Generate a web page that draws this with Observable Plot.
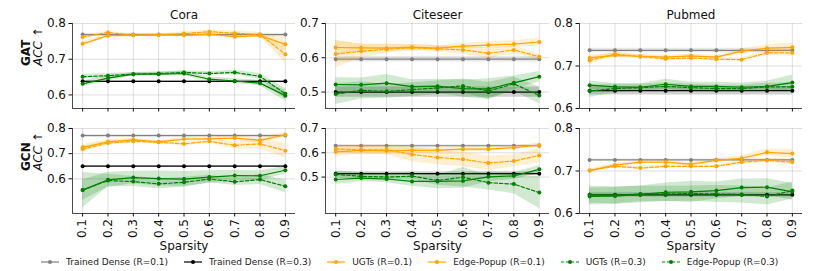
<!DOCTYPE html>
<html>
<head>
<meta charset="utf-8">
<script src="https://cdn.jsdelivr.net/npm/d3@7"></script>
<script src="https://cdn.jsdelivr.net/npm/@observablehq/plot@0.6"></script>
<style>
  html, body { margin: 0; padding: 0; background: #fff; }
  #chart { position: relative; width: 814px; height: 271px; background: #fff; overflow: hidden; font-family: "DejaVu Sans", sans-serif; }
  #chart > svg { position: absolute; }
  #legend { position: absolute; left: 41px; top: 257px; display: flex; gap: 16px; align-items: center; font-size: 9px; color: #222; white-space: nowrap; }
  #legend .item { display: flex; align-items: center; }
  #legend .item span { margin-left: 7px; }
</style>
</head>
<body>
<div id="chart"></div>
<script>
// ---------------- DATA ----------------
const sparsity = [0.1, 0.2, 0.3, 0.4, 0.5, 0.6, 0.7, 0.8, 0.9];
const datasets = ["Cora", "Citeseer", "Pubmed"];
const models = ["GAT", "GCN"];
// panel order: GAT-Cora, GAT-Citeseer, GAT-Pubmed, GCN-Cora, GCN-Citeseer, GCN-Pubmed
const yDomains = [[0.562, 0.8], [0.452, 0.7], [0.6, 0.8], [0.462, 0.8], [0.35, 0.7], [0.6, 0.8]];
const yTicks = [[0.6, 0.7, 0.8], [0.5, 0.6, 0.7], [0.6, 0.7, 0.8], [0.6, 0.7, 0.8], [0.5, 0.6, 0.7], [0.6, 0.7, 0.8]];

// Trained dense baselines (same at every sparsity)
const denseR01 = [0.769, 0.596, 0.737, 0.772, 0.629, 0.726];
const denseR01Sd = [0.003, 0.008, 0.005, 0.004, 0.004, 0.002];
const denseR03 = [0.638, 0.500, 0.642, 0.650, 0.514, 0.644];
const denseR03Sd = [0.002, 0.015, 0.010, 0.002, 0.008, 0.005];

// UGTs (R=0.1)
const ugtsR01 = [
  [0.743, 0.766, 0.767, 0.768, 0.767, 0.770, 0.763, 0.766, 0.742],
  [0.630, 0.629, 0.628, 0.631, 0.628, 0.634, 0.637, 0.640, 0.646],
  [0.719, 0.725, 0.723, 0.721, 0.724, 0.721, 0.735, 0.742, 0.744],
  [0.725, 0.747, 0.755, 0.747, 0.758, 0.759, 0.762, 0.753, 0.775],
  [0.604, 0.610, 0.608, 0.610, 0.611, 0.615, 0.615, 0.621, 0.632],
  [0.701, 0.714, 0.721, 0.721, 0.716, 0.725, 0.730, 0.744, 0.741]
];
const ugtsR01Sd = [
  [0.006, 0.005, 0.004, 0.003, 0.004, 0.004, 0.005, 0.005, 0.020],
  [0.020, 0.012, 0.012, 0.008, 0.008, 0.008, 0.010, 0.010, 0.012],
  [0.006, 0.005, 0.004, 0.004, 0.004, 0.004, 0.005, 0.008, 0.010],
  [0.010, 0.008, 0.006, 0.005, 0.006, 0.006, 0.008, 0.010, 0.010],
  [0.020, 0.015, 0.015, 0.012, 0.012, 0.010, 0.010, 0.008, 0.008],
  [0.004, 0.004, 0.004, 0.004, 0.004, 0.005, 0.006, 0.008, 0.010]
];
// Edge-Popup (R=0.1)
const epR01 = [
  [0.762, 0.775, 0.767, 0.768, 0.772, 0.777, 0.773, 0.769, 0.714],
  [0.611, 0.619, 0.625, 0.629, 0.626, 0.623, 0.613, 0.623, 0.603],
  [0.713, 0.728, 0.722, 0.717, 0.719, 0.716, 0.715, 0.731, 0.731],
  [0.718, 0.742, 0.749, 0.745, 0.739, 0.749, 0.733, 0.739, 0.712],
  [0.616, 0.612, 0.612, 0.593, 0.581, 0.573, 0.558, 0.566, 0.589],
  [0.701, 0.711, 0.707, 0.711, 0.711, 0.711, 0.721, 0.725, 0.721]
];
const epR01Sd = [
  [0.004, 0.004, 0.003, 0.003, 0.005, 0.005, 0.006, 0.006, 0.025],
  [0.040, 0.020, 0.012, 0.010, 0.010, 0.012, 0.015, 0.012, 0.008],
  [0.008, 0.006, 0.004, 0.005, 0.004, 0.004, 0.004, 0.006, 0.008],
  [0.010, 0.008, 0.006, 0.006, 0.008, 0.008, 0.015, 0.020, 0.030],
  [0.015, 0.020, 0.020, 0.030, 0.030, 0.030, 0.030, 0.025, 0.030],
  [0.003, 0.003, 0.004, 0.004, 0.004, 0.004, 0.005, 0.005, 0.006]
];
// UGTs (R=0.3)
const ugtsR03 = [
  [0.631, 0.647, 0.658, 0.658, 0.660, 0.644, 0.639, 0.633, 0.598],
  [0.522, 0.521, 0.526, 0.516, 0.517, 0.510, 0.509, 0.527, 0.545],
  [0.655, 0.651, 0.650, 0.657, 0.652, 0.652, 0.650, 0.652, 0.661],
  [0.555, 0.596, 0.605, 0.601, 0.599, 0.607, 0.613, 0.612, 0.634],
  [0.490, 0.496, 0.492, 0.482, 0.482, 0.484, 0.501, 0.505, 0.532],
  [0.640, 0.641, 0.645, 0.650, 0.651, 0.654, 0.661, 0.662, 0.651]
];
const ugtsR03Sd = [
  [0.008, 0.007, 0.005, 0.005, 0.006, 0.006, 0.006, 0.008, 0.015],
  [0.020, 0.020, 0.025, 0.020, 0.020, 0.025, 0.030, 0.020, 0.015],
  [0.010, 0.008, 0.008, 0.012, 0.010, 0.010, 0.010, 0.012, 0.018],
  [0.040, 0.030, 0.025, 0.030, 0.030, 0.025, 0.020, 0.020, 0.015],
  [0.020, 0.015, 0.015, 0.020, 0.030, 0.030, 0.020, 0.015, 0.015],
  [0.020, 0.020, 0.020, 0.022, 0.025, 0.020, 0.020, 0.020, 0.020]
];
// Edge-Popup (R=0.3)
const epR03 = [
  [0.651, 0.654, 0.658, 0.660, 0.663, 0.660, 0.663, 0.652, 0.603],
  [0.494, 0.505, 0.502, 0.507, 0.512, 0.518, 0.503, 0.524, 0.490],
  [0.641, 0.647, 0.649, 0.652, 0.649, 0.647, 0.647, 0.651, 0.651],
  [0.555, 0.593, 0.589, 0.580, 0.586, 0.599, 0.588, 0.597, 0.570],
  [0.511, 0.503, 0.500, 0.504, 0.486, 0.499, 0.477, 0.471, 0.436],
  [0.644, 0.643, 0.646, 0.646, 0.647, 0.646, 0.645, 0.640, 0.654]
];
const epR03Sd = [
  [0.006, 0.006, 0.005, 0.005, 0.005, 0.005, 0.006, 0.008, 0.015],
  [0.030, 0.025, 0.020, 0.020, 0.020, 0.020, 0.025, 0.020, 0.025],
  [0.015, 0.010, 0.008, 0.008, 0.008, 0.008, 0.008, 0.008, 0.010],
  [0.070, 0.025, 0.020, 0.020, 0.020, 0.015, 0.015, 0.020, 0.025],
  [0.015, 0.015, 0.015, 0.015, 0.020, 0.040, 0.030, 0.040, 0.065],
  [0.020, 0.020, 0.018, 0.018, 0.018, 0.020, 0.020, 0.020, 0.020]
];

const legendLabels = ["Trained Dense (R=0.1)", "Trained Dense (R=0.3)", "UGTs (R=0.1)", "Edge-Popup (R=0.1)", "UGTs (R=0.3)", "Edge-Popup (R=0.3)"];

// ---------------- STYLE / LAYOUT ----------------
const ORANGE = "#ffa500", GREEN = "#008000", GRAY = "#808080", BLACK = "#000000";
const legendColors = [GRAY, BLACK, ORANGE, ORANGE, GREEN, GREEN];
const legendDash = [null, null, null, null, "3,2", "3,2"];

const colLeft = [0, 300, 554], colWidth = [300, 254, 260];
const mLeft = [72, 25, 25], mRight = [5, 5, 12];
const rowTop = [0, 115], rowHeight = [115, 137];
const mTop = [23, 13], mBottom = [7, 24];
const xDomain = [0.06, 0.94];

const chart = document.getElementById("chart");

function seriesRows(values, sds) {
  return sparsity.map((x, j) => ({x, y: values[j], lo: values[j] - sds[j], hi: values[j] + sds[j]}));
}

function seriesMarks(rows, color, dash) {
  return [
    Plot.areaY(rows, {x: "x", y1: "lo", y2: "hi", fill: color, fillOpacity: 0.18, clip: true}),
    Plot.line(rows, {x: "x", y: "y", stroke: color, strokeWidth: 1.2, strokeDasharray: dash || undefined, clip: true}),
    Plot.dot(rows, {x: "x", y: "y", fill: color, r: 2, clip: true})
  ];
}

for (let i = 0; i < 6; i++) {
  const row = Math.floor(i / 3), col = i % 3;
  const dense1 = sparsity.map(() => denseR01[i]);
  const dense1Sd = sparsity.map(() => denseR01Sd[i]);
  const dense3 = sparsity.map(() => denseR03[i]);
  const dense3Sd = sparsity.map(() => denseR03Sd[i]);

  const marks = [
    Plot.gridX(sparsity, {stroke: "#b0b0b0", strokeOpacity: 0.5, strokeWidth: 0.8}),
    Plot.gridY(yTicks[i], {stroke: "#b0b0b0", strokeOpacity: 0.5, strokeWidth: 0.8}),
    ...seriesMarks(seriesRows(dense1, dense1Sd), GRAY, null),
    ...seriesMarks(seriesRows(dense3, dense3Sd), BLACK, null),
    ...seriesMarks(seriesRows(ugtsR01[i], ugtsR01Sd[i]), ORANGE, null),
    ...seriesMarks(seriesRows(epR01[i], epR01Sd[i]), ORANGE, "3.5,2"),
    ...seriesMarks(seriesRows(ugtsR03[i], ugtsR03Sd[i]), GREEN, null),
    ...seriesMarks(seriesRows(epR03[i], epR03Sd[i]), GREEN, "3.5,2"),
    Plot.ruleX([xDomain[0]], {stroke: "#333", strokeWidth: 0.9}),
    Plot.ruleY([yDomains[i][0]], {stroke: "#333", strokeWidth: 0.9}),
    Plot.axisY({ticks: yTicks[i], tickFormat: ".1f", tickSize: 3.5, tickPadding: 3, label: null, fontSize: 12}),
    row === 1
      ? Plot.axisX({ticks: sparsity, tickFormat: ".1f", tickRotate: -90, tickSize: 3.5, tickPadding: 2, label: null, fontSize: 12})
      : Plot.axisX({ticks: sparsity, tickFormat: () => "", tickSize: 3.5, label: null})
  ];
  if (row === 0) {
    marks.push(Plot.text([datasets[col]], {frameAnchor: "top", dy: -8, lineAnchor: "middle", fontSize: 12, fill: "#111"}));
  } else {
    marks.push(Plot.text(["Sparsity"], {frameAnchor: "bottom", dy: 33, lineAnchor: "middle", fontSize: 12, fill: "#111"}));
  }
  if (col === 0) {
    marks.push(Plot.text([models[row]], {frameAnchor: "left", dx: -46, rotate: -90, fontWeight: "bold", fontSize: 12, fill: "#111"}));
    marks.push(Plot.text(["ACC ↑"], {frameAnchor: "left", dx: -34, rotate: -90, fontStyle: "italic", fontSize: 12, fill: "#111"}));
  }

  const svg = Plot.plot({
    width: colWidth[col],
    height: rowHeight[row],
    marginLeft: mLeft[col], marginRight: mRight[col],
    marginTop: mTop[row], marginBottom: (row === 1 ? 39 : mBottom[row]),
    x: {domain: xDomain},
    y: {domain: yDomains[i]},
    style: {fontFamily: "DejaVu Sans", fontSize: "12px", background: "transparent", color: "#111", overflow: "visible"},
    marks
  });
  svg.style.left = colLeft[col] + "px";
  svg.style.top = rowTop[row] + "px";
  chart.appendChild(svg);
}

// legend
const legend = document.createElement("div");
legend.id = "legend";
legendLabels.forEach((lab, k) => {
  const item = document.createElement("div");
  item.className = "item";
  const s = d3.create("svg").attr("width", 18).attr("height", 8);
  s.append("line").attr("x1", 0).attr("x2", 18).attr("y1", 4).attr("y2", 4)
    .attr("stroke", legendColors[k]).attr("stroke-width", 1.2)
    .attr("stroke-dasharray", legendDash[k]);
  s.append("circle").attr("cx", 9).attr("cy", 4).attr("r", 2).attr("fill", legendColors[k]);
  item.appendChild(s.node());
  const sp = document.createElement("span");
  sp.textContent = lab;
  item.appendChild(sp);
  legend.appendChild(item);
});
chart.appendChild(legend);
</script>
</body>
</html>
